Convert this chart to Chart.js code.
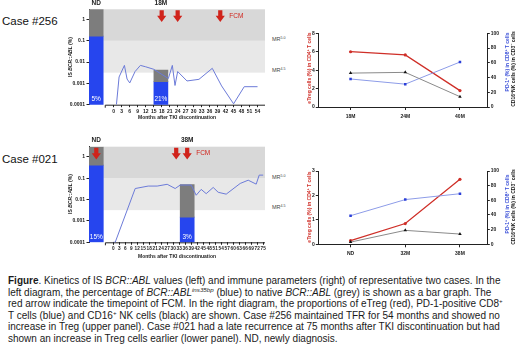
<!DOCTYPE html>
<html>
<head>
<meta charset="utf-8">
<script src="https://cdn.jsdelivr.net/npm/chart.js@4.4.1/dist/chart.umd.min.js"></script>
<style>
  body { margin: 0; width: 520px; height: 356px; position: relative; overflow: hidden; background: #fff;
         font-family: "Liberation Sans", Arial, Helvetica, sans-serif; color: #222; }
  canvas { position: absolute; }
  .case { position: absolute; left: 2px; font-size: 11.5px; line-height: 1; transform: translateY(-50%); color: #111; }
  .mr { position: absolute; left: 272px; font-size: 5.5px; color: #444; transform: translateY(-50%); white-space: nowrap; }
  .mr sup { font-size: 3.6px; vertical-align: 2.5px; }
  .rot { position: absolute; white-space: nowrap; font-weight: bold; font-size: 5px; line-height: 1;
         transform: translate(-50%, -50%) rotate(-90deg); }
  .rot sup { font-size: 3.5px; vertical-align: 2px; line-height: 0; }
  #cap { position: absolute; left: 8px; top: 275px; font-size: 10px; line-height: 11.6px; color: #1a1a1a; white-space: nowrap; }
  #cap sup { font-size: 6.2px; vertical-align: 4px; line-height: 0; }
</style>
</head>
<body>
<div class="case" style="top:22px">Case #256</div>
<div class="case" style="top:160px">Case #021</div>

<canvas id="bcr256" width="216" height="124" style="left:56px;top:0"></canvas>
<canvas id="bcr021" width="216" height="124" style="left:56px;top:137px"></canvas>
<canvas id="imm256" width="224" height="98" style="left:296px;top:24px"></canvas>
<canvas id="imm021" width="224" height="98" style="left:296px;top:161px"></canvas>

<div class="rot" style="left:70px;top:57px">IS <i>BCR::ABL</i> (%)</div>
<div class="rot" style="left:70px;top:194px">IS <i>BCR::ABL</i> (%)</div>

<div class="mr" style="top:39px">MR<sup>5.0</sup></div>
<div class="mr" style="top:70px">MR<sup>4.5</sup></div>
<div class="mr" style="top:177px">MR<sup>5.0</sup></div>
<div class="mr" style="top:207px">MR<sup>4.5</sup></div>

<div class="rot" style="left:308.7px;top:68px;color:#cf2f28">eTreg cells (%) in CD4<sup>+</sup> T cells</div>
<div class="rot" style="left:506.7px;top:62px;color:#3a4fd8">PD-1<sup>+</sup> (%) in CD8<sup>+</sup> T cells</div>
<div class="rot" style="left:513.3px;top:69px;color:#111">CD16<sup>+</sup>NK cells (%) in CD3<sup>&minus;</sup> cells</div>
<div class="rot" style="left:308.7px;top:207px;color:#cf2f28">eTreg cells (%) in CD4<sup>+</sup> T cells</div>
<div class="rot" style="left:506.7px;top:204px;color:#3a4fd8">PD-1<sup>+</sup> (%) in CD8<sup>+</sup> T cells</div>
<div class="rot" style="left:513.3px;top:207px;color:#111">CD16<sup>+</sup>NK cells (%) in CD3<sup>&minus;</sup> cells</div>

<div id="cap"><b>Figure</b>. Kinetics of IS <i>BCR::ABL</i> values (left) and immune parameters (right) of representative two cases. In the<br>
left diagram, the percentage of <i>BCR::ABL</i><sup><i>ins35bp</i></sup> (blue) to native <i>BCR::ABL</i> (grey) is shown as a bar graph. The<br>
red arrow indicate the timepoint of FCM. In the right diagram, the proportions of eTreg (red), PD-1-positive CD8<sup>+</sup><br>
T cells (blue) and CD16<sup>+</sup> NK cells (black) are shown. Case #256 maintained TFR for 54 months and showed no<br>
increase in Treg (upper panel). Case #021 had a late recurrence at 75 months after TKI discontinuation but had<br>
shown an increase in Treg cells earlier (lower panel). ND, newly diagnosis.</div>

<script>
// IS BCR::ABL (%) by months after TKI discontinuation
const months256 = [1, 2, 4, 5, 6, 8, 10, 12, 15, 20.5, 22, 23, 24, 27.5, 32, 37, 40.5, 45, 49, 54];
const is256 = [0.0001, 0.002, 0.007, 0.0016, 0.00105, 0.0036, 0.007, 0.006, 0.0046, 0.0017, 0.007, 0.0008,
               0.0036, 0.0013, 0.00155, 0.0051, 0.00076, 0.00011, 0.0007, 0.0007];
const months021 = [0, 1, 11, 17.5, 22, 27, 31, 33.5, 39, 41.5, 44, 46.5, 50, 52.5, 56.5, 63.5, 67.5, 71.5, 73, 75];
const is021 = [0.0001, 0.0001, 0.033, 0.043, 0.043, 0.052, 0.033, 0.048, 0.048, 0.016, 0.030, 0.019,
               0.037, 0.022, 0.018, 0.057, 0.081, 0.053, 0.14, 0.14];

// bars: native BCR::ABL (grey) over BCR::ABL ins35bp (blue)
const barNames256 = ['ND', '18M'];
const barAt256 = [-6.6, 17.7];
const greyTop256 = [3, 0.0042];
const blueTop256 = [0.166, 0.0012];
const insPct256 = ['5%', '21%'];

const barNames021 = ['ND', '38M'];
const barAt021 = [-8.45, 37];
const greyTop021 = [3, 0.051];
const blueTop021 = [0.41, 0.0015];
const insPct021 = ['15%', '3%'];

// FCM timepoints (months)
const fcm256 = [18, 24, 40];
const fcm021 = [-8.45, 31.5, 37];

const monthTicks256 = [0, 3, 6, 9, 12, 15, 18, 21, 24, 27, 30, 33, 36, 39, 42, 45, 48, 51, 54];
const monthTicks021 = [0, 3, 6, 9, 12, 15, 18, 21, 24, 27, 30, 33, 36, 39, 42, 45, 48, 51, 54, 57, 60, 63, 66, 69, 72, 75];
const isTicks = [0.0001, 0.001, 0.01, 0.1, 1];
const mrBands = [[0.0032, 0.1], [0.1, 3]];

// immune parameters
const visits256 = ['18M', '24M', '40M'];
const eTreg256 = [6.0, 5.65, 1.78];
const pd1_256 = [38, 31, 61];
const nk256 = [46, 47, 14];

const visits021 = ['ND', '32M', '38M'];
const eTreg021 = [0.15, 0.85, 2.66];
const pd1_021 = [39, 61, 69];
const nk021 = [3, 19, 14];

const FONT = '"Liberation Sans", Arial, sans-serif';
const INK = '#222';

// grey MR bands, broken x axis, FCM arrows and bar labels
const bcrDecor = {
  id: 'bcrDecor',
  beforeDatasetsDraw(chart, args, opts) {
    const {ctx, chartArea: a, scales: {x, y}} = chart;
    const x0 = x.getPixelForValue(opts.bandFrom);
    ctx.save();
    mrBands.forEach((b, i) => {
      const top = y.getPixelForValue(b[1]), bot = y.getPixelForValue(b[0]);
      ctx.fillStyle = opts.bandColors[i];
      ctx.fillRect(x0, top, a.right - x0, bot - top);
    });
    const xa = x.getPixelForValue(opts.axisFrom);
    ctx.strokeStyle = INK;
    ctx.lineWidth = 1;
    ctx.beginPath();
    ctx.moveTo(xa, a.bottom + 3);
    ctx.lineTo(xa, a.bottom + 0.5);
    ctx.lineTo(a.right, a.bottom + 0.5);
    ctx.stroke();
    ctx.restore();
  },
  afterDatasetsDraw(chart, args, opts) {
    const {ctx, chartArea: a, scales: {x}} = chart;
    const bars = chart.getDatasetMeta(2).data;
    ctx.save();
    ctx.textAlign = 'center';
    ctx.textBaseline = 'middle';
    bars.forEach((bar, i) => {
      ctx.fillStyle = INK;
      ctx.font = 'bold 6.5px ' + FONT;
      ctx.fillText(opts.names[i], bar.x, a.top - 6);
      ctx.fillStyle = '#fff';
      ctx.font = '6.5px ' + FONT;
      ctx.fillText(opts.pct[i], bar.x, a.bottom - 5.5);
    });
    ctx.fillStyle = '#d0231b';
    let last = 0;
    opts.fcm.forEach(m => {
      const px = x.getPixelForValue(m);
      const t = a.top + 1, mid = a.top + 6.5, tip = a.top + 12.8;
      ctx.beginPath();
      ctx.moveTo(px - 2.1, t);
      ctx.lineTo(px + 2.1, t);
      ctx.lineTo(px + 2.1, mid);
      ctx.lineTo(px + 4.6, mid);
      ctx.lineTo(px, tip);
      ctx.lineTo(px - 4.6, mid);
      ctx.lineTo(px - 2.1, mid);
      ctx.closePath();
      ctx.fill();
      last = Math.max(last, px);
    });
    ctx.textAlign = 'left';
    ctx.font = '6.5px ' + FONT;
    ctx.fillText('FCM', last + 9, a.top + 6.5);
    ctx.restore();
  }
};

function makeBcr(id, d) {
  return new Chart(document.getElementById(id), {
    type: 'bar',
    data: {
      datasets: [
        {
          type: 'line',
          data: d.months.map((m, i) => ({x: m, y: d.is[i]})),
          borderColor: '#6c7bd8',
          borderWidth: 1,
          pointRadius: 0,
          tension: 0,
          order: 0
        },
        {
          data: d.barAt.map((m, i) => ({x: m, y: [d.blueTop[i], d.greyTop[i]]})),
          backgroundColor: '#7d7d7d',
          barThickness: 14,
          grouped: false,
          order: 1
        },
        {
          data: d.barAt.map((m, i) => ({x: m, y: [isTicks[0], d.blueTop[i]]})),
          backgroundColor: '#2645ee',
          barThickness: 14,
          grouped: false,
          order: 1
        }
      ]
    },
    options: {
      responsive: false,
      animation: false,
      layout: {padding: {left: 11, right: 7, top: d.padTop, bottom: 0}},
      scales: {
        x: {
          type: 'linear',
          min: d.xMin,
          max: d.xMax,
          offset: false,
          afterBuildTicks: s => { s.ticks = d.ticks.map(v => ({value: v})); },
          afterFit: s => { s.height = d.xHeight; },
          border: {display: false},
          grid: {drawOnChartArea: false, offset: false, tickLength: 2.5, color: INK},
          ticks: {autoSkip: false, maxRotation: 0, padding: 1.2, color: INK,
                  font: {family: FONT, size: d.tickSize, weight: 'bold'}},
          title: {display: true, text: 'Months after TKI discontinuation', color: INK,
                  padding: {top: 0, bottom: d.titlePad}, font: {family: FONT, size: 5, weight: 'bold'}}
        },
        y: {
          type: 'logarithmic',
          min: isTicks[0],
          max: mrBands[1][1],
          afterBuildTicks: s => { s.ticks = isTicks.map(v => ({value: v})); },
          afterFit: s => { s.width = 22; },
          border: {display: true, color: INK, width: 1},
          grid: {drawOnChartArea: false, tickLength: 2.5, color: INK},
          ticks: {padding: 1.5, color: INK, callback: v => String(v),
                  font: {family: FONT, size: 5, weight: 'bold'}}
        }
      },
      plugins: {
        legend: {display: false},
        tooltip: {enabled: false},
        bcrDecor: {
          bandFrom: d.bandFrom,
          axisFrom: d.axisFrom,
          bandColors: ['#e8e8e8', '#d8d8d8'],
          names: d.names,
          pct: d.pct,
          fcm: d.fcm
        }
      }
    },
    plugins: [bcrDecor]
  });
}

makeBcr('bcr256', {
  months: months256, is: is256, barAt: barAt256, greyTop: greyTop256, blueTop: blueTop256,
  names: barNames256, pct: insPct256, fcm: fcm256, ticks: monthTicks256,
  xMin: -9.3, xMax: 56.8, bandFrom: -4, axisFrom: -3.2, padTop: 9.3, xHeight: 19.3, titlePad: 3, tickSize: 5
});
makeBcr('bcr021', {
  months: months021, is: is021, barAt: barAt021, greyTop: greyTop021, blueTop: blueTop021,
  names: barNames021, pct: insPct021, fcm: fcm021, ticks: monthTicks021,
  xMin: -12.1, xMax: 75.9, bandFrom: -5, axisFrom: -3.9, padTop: 9.7, xHeight: 18.7, titlePad: 1.3, tickSize: 4.7
});

function makeImmune(id, d) {
  const pts = vals => vals.map((v, i) => ({x: i, y: v}));
  return new Chart(document.getElementById(id), {
    type: 'line',
    data: {
      datasets: [
        {
          data: pts(d.nk), yAxisID: 'yR',
          borderColor: '#8a8a8a', borderWidth: 1,
          pointStyle: 'triangle', pointRadius: 2, pointBackgroundColor: '#111', pointBorderWidth: 0
        },
        {
          data: pts(d.pd1), yAxisID: 'yR',
          borderColor: '#8d9ce8', borderWidth: 1,
          pointStyle: 'rect', pointRadius: 1.8, pointBackgroundColor: '#2b3fd8', pointBorderWidth: 0
        },
        {
          data: pts(d.eTreg), yAxisID: 'y',
          borderColor: '#cf2f28', borderWidth: 1.3,
          pointRadius: 1.6, pointBackgroundColor: '#cf2f28', pointBorderWidth: 0
        }
      ]
    },
    options: {
      responsive: false,
      animation: false,
      layout: {padding: {left: 6, right: 20.7, top: d.padTop, bottom: 0}},
      scales: {
        x: {
          type: 'linear',
          min: -0.59,
          max: 2.5,
          afterBuildTicks: s => { s.ticks = d.visits.map((v, i) => ({value: i})); },
          afterFit: s => { s.height = d.xHeight; },
          border: {display: true, color: INK, width: 1},
          grid: {drawOnChartArea: false, tickLength: 3, color: INK},
          ticks: {padding: 3.5, color: INK, callback: v => d.visits[v],
                  font: {family: FONT, size: 5, weight: 'bold'}}
        },
        y: {
          position: 'left',
          min: 0,
          max: d.leftMax,
          afterFit: s => { s.width = 16.3; },
          border: {display: true, color: INK, width: 1},
          grid: {drawOnChartArea: false, tickLength: 2.5, color: INK},
          ticks: {stepSize: d.leftStep, padding: 1, color: INK, font: {family: FONT, size: 5, weight: 'bold'}}
        },
        yR: {
          position: 'right',
          min: 0,
          max: 100,
          afterFit: s => { s.width = 12; },
          border: {display: true, color: INK, width: 1},
          grid: {drawOnChartArea: false, tickLength: 2.5, color: INK},
          ticks: {stepSize: 20, padding: 1, color: INK, font: {family: FONT, size: 5, weight: 'bold'}}
        }
      },
      plugins: {legend: {display: false}, tooltip: {enabled: false}}
    }
  });
}

makeImmune('imm256', {visits: visits256, eTreg: eTreg256, pd1: pd1_256, nk: nk256,
  leftMax: 8, leftStep: 2, padTop: 9.3, xHeight: 15});
makeImmune('imm021', {visits: visits021, eTreg: eTreg021, pd1: pd1_021, nk: nk021,
  leftMax: 3, leftStep: 1, padTop: 10, xHeight: 14.7});
</script>
</body>
</html>
